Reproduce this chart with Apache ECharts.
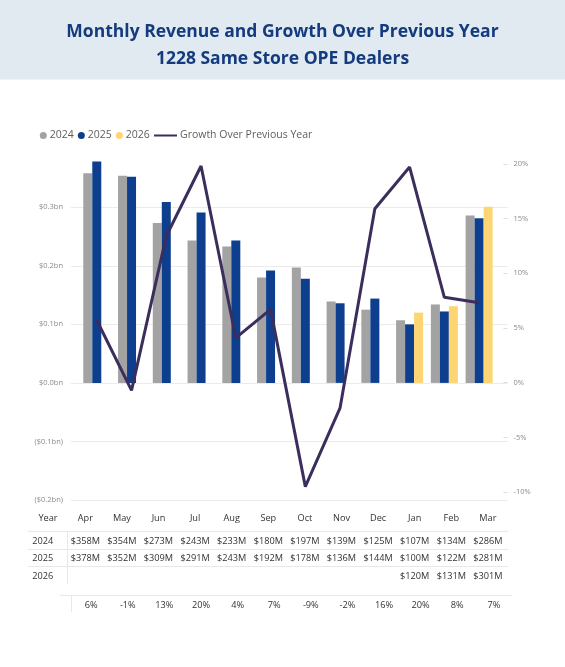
<!DOCTYPE html>
<html><head><meta charset="utf-8">
<script src="https://cdn.jsdelivr.net/npm/echarts@6/dist/echarts.min.js"></script>
<style>html,body{margin:0;padding:0;background:#fff}#c{width:565px;height:667px}</style>
</head><body><div id="c"></div>
<script>
// ---- data ----
const months = ['Apr','May','Jun','Jul','Aug','Sep','Oct','Nov','Dec','Jan','Feb','Mar'];
const years = ['2024','2025','2026'];
const rev2024 = [358,354,273,243,233,180,197,139,125,107,134,286];
const rev2025 = [378,352,309,291,243,192,178,136,144,100,122,281];
const rev2026 = [null,null,null,null,null,null,null,null,null,120,131,301];
const growth = [5.7,-0.7,13.4,19.8,4.1,6.7,-9.5,-2.3,15.9,19.7,7.8,7.3];
const growthLabels = ['6%','-1%','13%','20%','4%','7%','-9%','-2%','16%','20%','8%','7%'];
const leftAxisMin = -200, leftAxisMax = 400, leftAxisStep = 100; // $M
const rightAxisMin = -10, rightAxisMax = 20, rightAxisStep = 5;   // %

// ---- style ----
const FONT = '"Open Sans", "Noto Sans", sans-serif';
const C2024 = '#a3a3a3', C2025 = '#0e3f8e', C2026 = '#fdd673', CLINE = '#3b2d5c';
const TXT = '#333333', GRID = '#ebebeb';

function fmtBn(v){
  if (v === leftAxisMax) return '';
  const s = '$' + (Math.abs(v)/1000).toFixed(1) + 'bn';
  return v < 0 ? '(' + s + ')' : s;
}

// ---- table (text graphics built from the arrays) ----
const g = [];
g.push({type:'rect', z:0, shape:{x:0,y:0,width:565,height:79.5}, style:{fill:'#e1e9f1'}});
const colX0 = 85.3, colStep = 36.6, gX0 = 91.2;
const headY = 518, rowY0 = 541, rowStep = 17.5, growthY = 605.5;
const tf = 'normal 9.2px ' + FONT;
g.push({type:'text', style:{text:'Year', x:48, y:headY, fill:TXT, font:tf, align:'center', verticalAlign:'middle'}});
months.forEach((m,i)=>g.push({type:'text', style:{text:m, x:colX0+i*colStep, y:headY, fill:TXT, font:tf, align:'center', verticalAlign:'middle'}}));
[rev2024, rev2025, rev2026].forEach((arr,r)=>{
  const y = rowY0 + r*rowStep;
  g.push({type:'text', style:{text:years[r], x:32.3, y:y, fill:TXT, font:tf, align:'left', verticalAlign:'middle'}});
  arr.forEach((v,i)=>{ if (v!=null) g.push({type:'text', style:{text:'$'+v+'M', x:colX0+i*colStep, y:y, fill:TXT, font:tf, align:'center', verticalAlign:'middle'}}); });
});
growthLabels.forEach((t,i)=>g.push({type:'text', style:{text:t, x:gX0+i*colStep, y:growthY, fill:TXT, font:tf, align:'center', verticalAlign:'middle'}}));
const tl = (x1,y1,x2,y2)=>g.push({type:'line', shape:{x1,y1,x2,y2}, style:{stroke:'#e8e8e8', lineWidth:1}});
tl(28,531.5,508,531.5); tl(28,549.5,508,549.5); tl(28,566.5,508,566.5);
tl(67.5,532,67.5,584);
tl(60,595.5,511.5,595.5); tl(71.5,596,71.5,612);

const chart = echarts.init(document.getElementById('c'), null, {renderer:'canvas'});
chart.setOption({
  animation:false,
  backgroundColor:'#fff',
  title:{
    text:'Monthly Revenue and Growth Over Previous Year\n1228 Same Store OPE Dealers',
    left:'center', top:14, z:10,
    textStyle:{fontFamily:FONT, fontWeight:'bold', fontSize:17.5, lineHeight:27, color:'#143b7d', align:'center'}
  },
  legend:[
    {data:['2024','2025','2026'], left:34.8, top:125, icon:'circle', itemWidth:7, itemHeight:7, itemGap:4,
     textStyle:{fontFamily:FONT, fontSize:10.5, color:'#605e5c', padding:[0,0,0,-2]}},
    {data:[{name:'Growth Over Previous Year', icon:'rect'}], left:149, top:125, itemWidth:23, itemHeight:2, itemGap:4,
     textStyle:{fontFamily:FONT, fontSize:10.5, color:'#605e5c', padding:[0,0,0,-2]}}
  ],
  grid:[
    {left:71, right:57.3, top:148.7, bottom:167},
    {left:79.4, right:68.5, top:148.7, bottom:167},
    {left:79.4, right:68.5, top:163.8, bottom:174.9}
  ],
  xAxis:[
    {gridIndex:0, type:'value', min:0, max:1, show:false},
    {gridIndex:1, type:'category', data:months, show:false},
    {gridIndex:2, type:'category', data:months, show:false}
  ],
  yAxis:[
    {gridIndex:0, type:'value', min:leftAxisMin, max:leftAxisMax, interval:leftAxisStep,
     axisLine:{show:false}, axisTick:{show:false},
     axisLabel:{formatter:fmtBn, color:'#8a8a8a', fontSize:7.5, fontFamily:FONT, margin:8, showMaxLabel:true},
     splitLine:{show:true, showMaxLine:false, lineStyle:{color:GRID, width:1}}},
    {gridIndex:1, type:'value', min:leftAxisMin, max:leftAxisMax, interval:leftAxisStep, show:false, splitLine:{show:false}},
    {gridIndex:2, type:'value', position:'right', offset:7, min:rightAxisMin, max:rightAxisMax, interval:rightAxisStep,
     axisLine:{show:false}, axisTick:{show:true, length:4, lineStyle:{color:'#dddddd'}},
     axisLabel:{formatter:v=>v+'%', color:'#8a8a8a', fontSize:7.5, fontFamily:FONT, margin:10},
     splitLine:{show:false}}
  ],
  series:[
    {name:'2024', type:'bar', xAxisIndex:1, yAxisIndex:1, data:rev2024, barWidth:9, barGap:'0%', itemStyle:{color:C2024}},
    {name:'2025', type:'bar', xAxisIndex:1, yAxisIndex:1, data:rev2025, barWidth:9, barGap:'0%', itemStyle:{color:C2025}},
    {name:'2026', type:'bar', xAxisIndex:1, yAxisIndex:1, data:rev2026, barWidth:9, barGap:'0%', itemStyle:{color:C2026}},
    {name:'Growth Over Previous Year', type:'line', xAxisIndex:2, yAxisIndex:2, data:growth, symbol:'none', clip:false, z:5,
     lineStyle:{color:CLINE, width:3}, itemStyle:{color:CLINE}}
  ],
  graphic:g
});
</script></body></html>
